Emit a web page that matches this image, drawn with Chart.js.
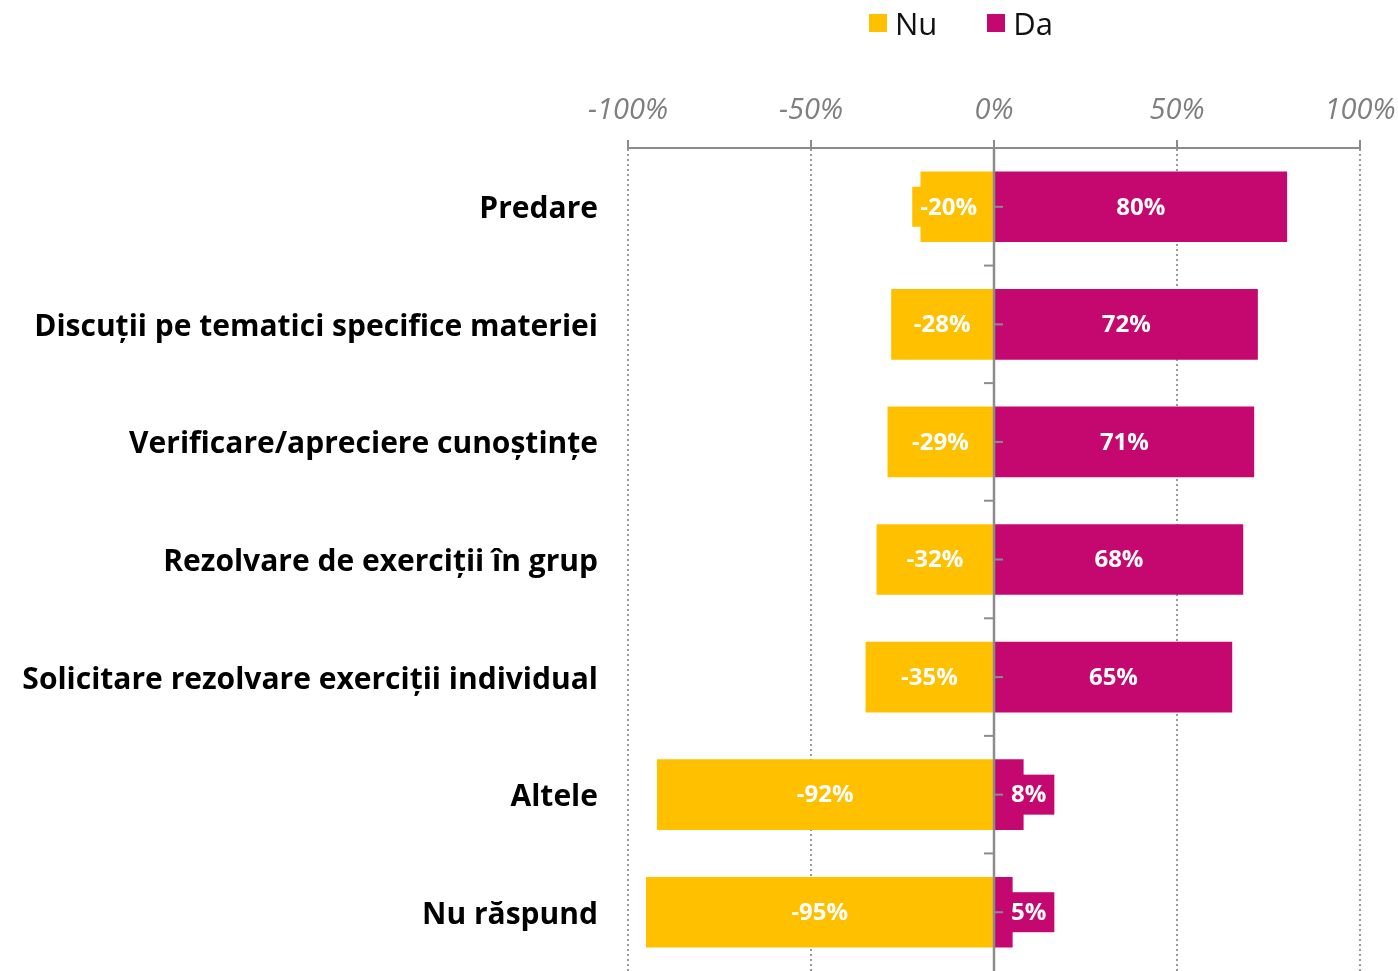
<!DOCTYPE html>
<html>
<head>
<meta charset="utf-8">
<script src="https://cdn.jsdelivr.net/npm/chart.js@4"></script>
<style>
  html, body { margin: 0; padding: 0; background: #fff; overflow: hidden; }
  #wrap { position: relative; width: 1398px; height: 971px; }
  #wrap canvas { display: block; }
  #legend { position: absolute; top: 2px; left: 869px; font-family: 'Open Sans', sans-serif; font-size: 31px; color: #111; display: flex; align-items: center; }
  #legend span.sq { display: inline-block; width: 18px; height: 18px; margin-right: 8px; }
  #legend span.item { display: flex; align-items: center; margin-right: 50px; }
</style>
</head>
<body>
<div id="wrap">
  <canvas id="chart"></canvas>
  <div id="legend"></div>
</div>
<script>
const categories = [
  'Predare',
  'Discuții pe tematici specifice materiei',
  'Verificare/apreciere cunoștințe',
  'Rezolvare de exerciții în grup',
  'Solicitare rezolvare exerciții individual',
  'Altele',
  'Nu răspund'
];
const nuValues = [-20, -28, -29, -32, -35, -92, -95];
const daValues = [80, 72, 71, 68, 65, 8, 5];
const xTicks = [-100, -50, 0, 50, 100];

const NU_COLOR = '#FFC000';
const DA_COLOR = '#C4086F';
const AXIS_GREY = '#8c8c8c';
const FONT = "'Open Sans', sans-serif";

document.getElementById('legend').innerHTML =
  '<span class="item"><span class="sq" style="background:' + NU_COLOR + '"></span>Nu</span>' +
  '<span class="item"><span class="sq" style="background:' + DA_COLOR + '"></span>Da</span>';

// value labels with a background box, then the zero axis on top
const labelBoxes = {
  id: 'labelBoxes',
  afterDatasetsDraw(chart) {
    const ctx = chart.ctx;
    ctx.save();
    ctx.font = 'bold 24px ' + FONT;
    ctx.textAlign = 'center';
    ctx.textBaseline = 'middle';
    chart.data.datasets.forEach((ds, di) => {
      chart.getDatasetMeta(di).data.forEach((bar, i) => {
        const v = ds.data[i];
        const txt = v + '%';
        const tw = ctx.measureText(txt).width;
        const w = tw + 16, h = 40;
        const cx = (bar.x + bar.base) / 2;
        let left = cx - w / 2;
        if (v > 0 && left < bar.base + 8) left = bar.base + 8;
        if (v < 0 && left + w > bar.base - 8) left = bar.base - 8 - w;
        ctx.fillStyle = ds.backgroundColor;
        ctx.fillRect(left, bar.y - h / 2, w, h);
        ctx.fillStyle = '#fff';
        ctx.fillText(txt, left + w / 2, bar.y + 1);
      });
    });
    const xs = chart.scales.x, ys = chart.scales.y, area = chart.chartArea;
    const x0 = xs.getPixelForValue(0);
    ctx.strokeStyle = AXIS_GREY;
    ctx.lineWidth = 2.5;
    ctx.beginPath();
    ctx.moveTo(x0, area.top);
    ctx.lineTo(x0, area.bottom);
    ctx.stroke();
    ctx.lineWidth = 2;
    const step = (area.bottom - area.top) / categories.length;
    for (let k = 0; k < categories.length; k++) {
      const yc = ys.getPixelForValue(k);
      ctx.beginPath();
      ctx.moveTo(x0, yc);
      ctx.lineTo(x0 + 9, yc);
      ctx.stroke();
      if (k > 0) {
        const yb = area.top + step * k;
        ctx.beginPath();
        ctx.moveTo(x0 - 10, yb);
        ctx.lineTo(x0, yb);
        ctx.stroke();
      }
    }
    ctx.restore();
  }
};

new Chart(document.getElementById('chart'), {
  type: 'bar',
  data: {
    labels: categories,
    datasets: [
      { label: 'Nu', data: nuValues, backgroundColor: NU_COLOR, barThickness: 70 },
      { label: 'Da', data: daValues, backgroundColor: DA_COLOR, barThickness: 70 }
    ]
  },
  options: {
    indexAxis: 'y',
    responsive: true,
    maintainAspectRatio: false,
    animation: false,
    devicePixelRatio: 1,
    layout: { padding: { top: 0, right: 38, bottom: 0, left: 0 } },
    plugins: {
      legend: { display: false },
      tooltip: { enabled: false }
    },
    scales: {
      x: {
        position: 'top',
        stacked: true,
        min: -100,
        max: 100,
        afterFit: s => {
          s.height = 148;
          s.paddingLeft = 0;
          s.paddingRight = 0;
        },
        afterBuildTicks: s => { s.ticks = xTicks.map(v => ({ value: v })); },
        border: { display: true, color: AXIS_GREY, width: 2, dash: [2, 3] },
        grid: {
          color: c => c.tick && c.tick.value === 0 ? 'rgba(0,0,0,0)' : '#9a9a9a',
          lineWidth: 2,
          tickColor: AXIS_GREY,
          tickLength: 8,
          tickWidth: 2,
          tickBorderDash: []
        },
        ticks: {
          color: '#7f7f7f',
          padding: 12,
          maxRotation: 0,
          font: { family: FONT, size: 29, style: 'italic' },
          callback: v => v + '%'
        }
      },
      y: {
        stacked: true,
        afterFit: s => {
          s.width = 628;
          s.paddingTop = 0;
          s.paddingBottom = 0;
        },
        grid: { display: false, drawTicks: false },
        border: { display: false },
        ticks: {
          color: '#000',
          padding: 30,
          labelOffset: 3,
          font: { family: FONT, size: 30, weight: 'bold' }
        }
      }
    }
  },
  plugins: [labelBoxes]
});
</script>
</body>
</html>
